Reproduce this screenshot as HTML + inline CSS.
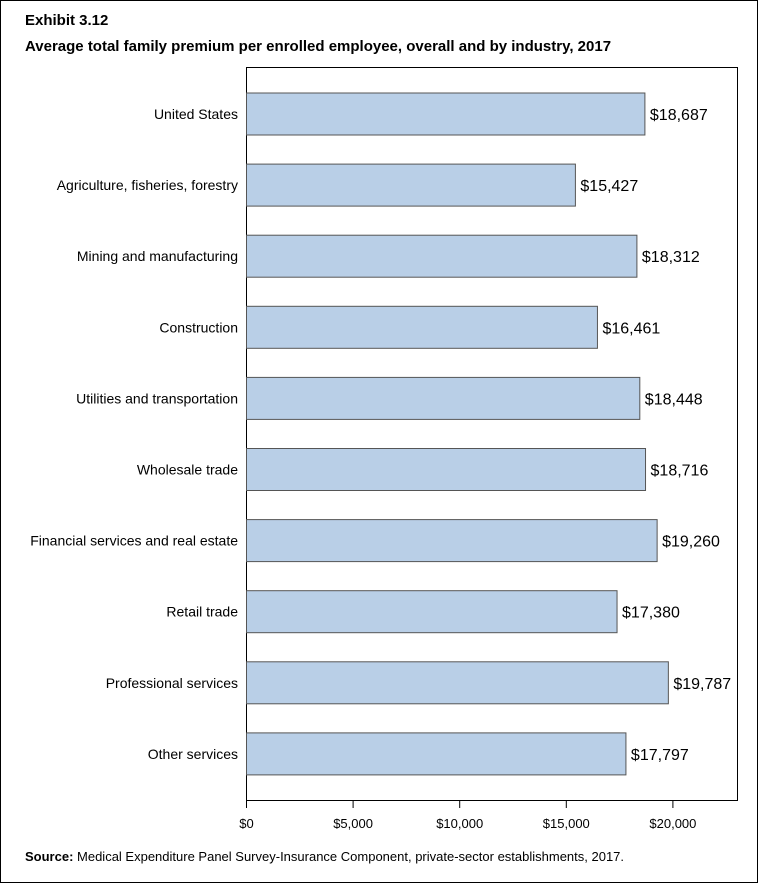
<!DOCTYPE html>
<html><head><meta charset="utf-8"><style>
body{margin:0;width:758px;height:883px;overflow:hidden;background:#fff;font-family:"Liberation Sans",sans-serif}
</style></head><body>
<svg width="758" height="883" xmlns="http://www.w3.org/2000/svg" font-family="Liberation Sans, sans-serif">
<rect x="0.5" y="0.5" width="757" height="882" fill="#fff" stroke="#000"/>
<text x="25" y="25" font-size="15" font-weight="bold">Exhibit 3.12</text>
<text x="25" y="51" font-size="15" font-weight="bold">Average total family premium per enrolled employee, overall and by industry, 2017</text>
<rect x="246.5" y="67.5" width="491" height="733" fill="none" stroke="#000"/>
<g id="bars"></g>
<g id="axis"></g>
<text x="25" y="861" font-size="13"><tspan font-weight="bold">Source:</tspan> Medical Expenditure Panel Survey-Insurance Component, private-sector establishments, 2017.</text>
</svg>
<script>
const categories=["United States","Agriculture, fisheries, forestry","Mining and manufacturing","Construction","Utilities and transportation","Wholesale trade","Financial services and real estate","Retail trade","Professional services","Other services"];
const values=[18687,15427,18312,16461,18448,18716,19260,17380,19787,17797];
const valueLabels=["$18,687","$15,427","$18,312","$16,461","$18,448","$18,716","$19,260","$17,380","$19,787","$17,797"];
const tickValues=[0,5000,10000,15000,20000];
const tickLabels=["$0","$5,000","$10,000","$15,000","$20,000"];
const NS="http://www.w3.org/2000/svg";
const x=v=>246.5+v*0.02132;
const yc=i=>114+i*71.1;
const bars=document.getElementById('bars'),axis=document.getElementById('axis');
function mk(tag,attrs,parent){const e=document.createElementNS(NS,tag);for(const k in attrs)e.setAttribute(k,attrs[k]);parent.appendChild(e);return e;}
categories.forEach((c,i)=>{
  const r=mk('rect',{x:x(0),y:yc(i)-21,width:x(values[i])-x(0),height:42,fill:'#b9cfe7',stroke:'#555','stroke-width':1},bars);
  
  
  const t=mk('text',{x:x(values[i])+5,y:yc(i)+6,'font-size':16,fill:'#000'},bars);t.textContent=valueLabels[i];
  
  
  const l=mk('text',{x:238,y:yc(i)+5,'font-size':14,'text-anchor':'end'},bars);l.textContent=c;
  
  
});
tickValues.forEach((v,i)=>{
  const tk=mk('line',{x1:x(v),x2:x(v),y1:800.5,y2:808,stroke:'#000'},axis);
  
  
  const t=mk('text',{x:x(v),y:828,'font-size':13,'text-anchor':'middle'},axis);t.textContent=tickLabels[i];
  
  
});
</script>
</body></html>
